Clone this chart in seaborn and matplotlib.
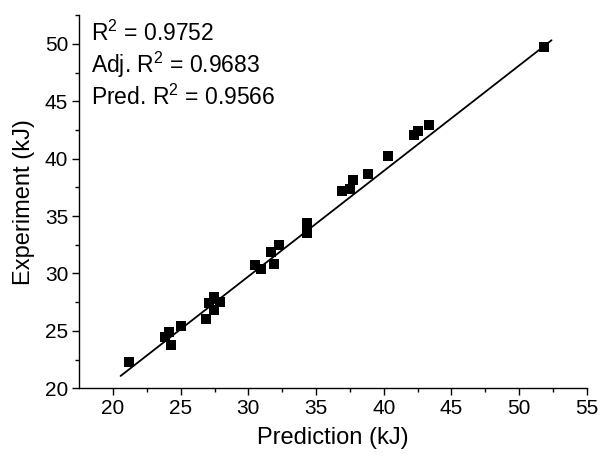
import numpy as np
import pandas as pd
import matplotlib
matplotlib.use("Agg")
import matplotlib.pyplot as plt
import seaborn as sns

prediction = [21.15, 23.85, 24.15, 24.3, 25.05, 26.85, 27.45, 27.1, 27.9, 27.45,
              30.45, 30.95, 31.9, 31.65, 32.25, 34.35, 34.35, 36.95, 37.5, 37.75,
              38.8, 40.3, 42.2, 42.55, 43.35, 51.85]
experiment = [22.3, 24.45, 24.9, 23.75, 25.4, 26.0, 27.95, 27.4, 27.5, 26.85,
              30.7, 30.4, 30.85, 31.9, 32.5, 34.4, 33.55, 37.15, 37.4, 38.15,
              38.7, 40.25, 42.1, 42.45, 42.95, 49.75]
# fitted line
fit_slope = 0.918
fit_intercept = 2.21
fit_x_range = [20.55, 52.4]
stats_text = ["R$^2$ = 0.9752", "Adj. R$^2$ = 0.9683", "Pred. R$^2$ = 0.9566"]
x_ticks = [20, 25, 30, 35, 40, 45, 50, 55]
y_ticks = [20, 25, 30, 35, 40, 45, 50]

sns.set_style("ticks")
plt.rcParams['font.family'] = ['Liberation Sans', 'DejaVu Sans']
plt.rcParams['mathtext.fontset'] = 'custom'
plt.rcParams['mathtext.rm'] = 'Liberation Sans'
plt.rcParams['text.color'] = 'black'
plt.rcParams['axes.labelcolor'] = 'black'

df = pd.DataFrame({"Prediction": prediction, "Experiment": experiment})

fig = plt.figure(figsize=(6.03, 4.59), dpi=100)
ax = fig.add_axes([0.1315, 0.154, 0.8415, 0.813])

xf = np.array(fit_x_range)
fit = pd.DataFrame({"x": xf, "y": fit_slope * xf + fit_intercept})
sns.lineplot(data=fit, x="x", y="y", color="black", linewidth=1.3, ax=ax)
sns.scatterplot(data=df, x="Prediction", y="Experiment", marker="s", color="black",
                s=45, edgecolor="black", linewidth=0, ax=ax, zorder=3)

ax.set_xlim(17.5, 55)
ax.set_ylim(20, 52.5)
ax.set_xticks(x_ticks)
ax.set_yticks(y_ticks)
ax.set_xticks([22.5, 27.5, 32.5, 37.5, 42.5, 47.5, 52.5], minor=True)
ax.set_yticks([22.5, 27.5, 32.5, 37.5, 42.5, 47.5, 52.5], minor=True)
ax.tick_params(which="major", direction="out", length=5, width=1, labelsize=15,
               colors="black", labelcolor="black", pad=3)
ax.tick_params(which="minor", direction="out", length=3, width=1, colors="black")
for s in ["top", "right"]:
    ax.spines[s].set_visible(False)
for s in ["left", "bottom"]:
    ax.spines[s].set_linewidth(1)
    ax.spines[s].set_color("black")

ax.set_xlabel("Prediction (kJ)", fontsize=17, labelpad=6, color="black")
ax.set_ylabel("Experiment (kJ)", fontsize=17, labelpad=7, color="black")

for i, t in enumerate(stats_text):
    ax.text(0.0225, 0.952 - i * 0.086, t, transform=ax.transAxes, fontsize=16.5,
            ha="left", va="center", color="black")

fig.savefig("out.png", dpi=100)
